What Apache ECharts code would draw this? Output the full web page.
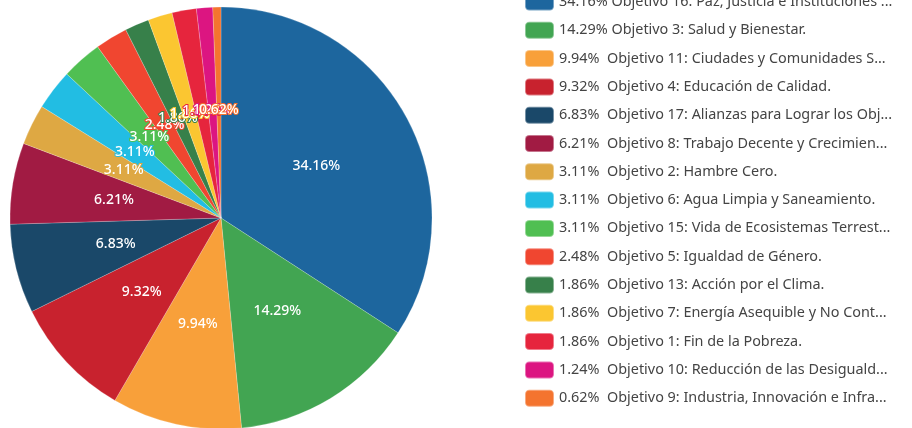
<!DOCTYPE html>
<html>
<head>
<meta charset="utf-8">
<script src="https://cdn.jsdelivr.net/npm/echarts@6/dist/echarts.min.js"></script>
<style>
  html, body { margin: 0; padding: 0; background: #fff; }
  #main { width: 912px; height: 428px; }
</style>
</head>
<body>
<div id="main"></div>
<script>
// objetivos (ODS) y número de registros
const names = [
  'Objetivo 16: Paz, Justicia e Instituciones Sólidas.',
  'Objetivo 3: Salud y Bienestar.',
  'Objetivo 11: Ciudades y Comunidades Sostenibles.',
  'Objetivo 4: Educación de Calidad.',
  'Objetivo 17: Alianzas para Lograr los Objetivos.',
  'Objetivo 8: Trabajo Decente y Crecimiento Económico.',
  'Objetivo 2: Hambre Cero.',
  'Objetivo 6: Agua Limpia y Saneamiento.',
  'Objetivo 15: Vida de Ecosistemas Terrestres.',
  'Objetivo 5: Igualdad de Género.',
  'Objetivo 13: Acción por el Clima.',
  'Objetivo 7: Energía Asequible y No Contaminante.',
  'Objetivo 1: Fin de la Pobreza.',
  'Objetivo 10: Reducción de las Desigualdades.',
  'Objetivo 9: Industria, Innovación e Infraestructura.'
];
const values = [55, 23, 16, 15, 11, 10, 5, 5, 5, 4, 3, 3, 3, 2, 1];
const colors = [
  '#1d669e', '#42a552', '#f8a03a', '#c8222e', '#1a4869',
  '#a11b43', '#dea843', '#22bde3', '#50bf52', '#f04630',
  '#37804a', '#fbc631', '#e6253d', '#dc1581', '#f4742f'
];

const total = values.reduce((a, b) => a + b, 0);
const pieData = names.map((n, i) => ({ name: n, value: values[i], itemStyle: { color: colors[i] } }));

var chart = echarts.init(document.getElementById('main'));
var option = {
  backgroundColor: '#fff',
  animation: false,
  legend: {
    orient: 'vertical',
    left: 519,
    top: -12.5,
    itemWidth: 29,
    itemHeight: 17,
    itemGap: 9.3,
    icon: 'roundRect',
    textStyle: {
      fontFamily: 'Noto Sans',
      fontSize: 14.4,
      lineHeight: 17,
      color: '#444',
      width: 336,
      overflow: 'truncate',
      ellipsis: '...'
    },
    formatter: function (name) {
      const i = names.indexOf(name);
      const p = (values[i] / total * 100).toFixed(2) + '%';
      return p.padEnd(7, ' ') + name;
    }
  },
  series: [{
    type: 'pie',
    center: [221, 218],
    radius: 211,
    startAngle: 90,
    data: pieData,
    itemStyle: { borderColor: 'rgba(255,255,255,0.4)', borderWidth: 0.5 },
    label: {
      position: 'inside',
      formatter: '{d}%',
      fontFamily: 'Noto Sans',
      fontSize: 14,
      fontWeight: 500,
      color: '#fff',
      textBorderColor: 'inherit',
      textBorderWidth: 2
    },
    labelLayout: { hideOverlap: false },
    labelLine: { show: false }
  }]
};
chart.setOption(option);
</script>
</body>
</html>
